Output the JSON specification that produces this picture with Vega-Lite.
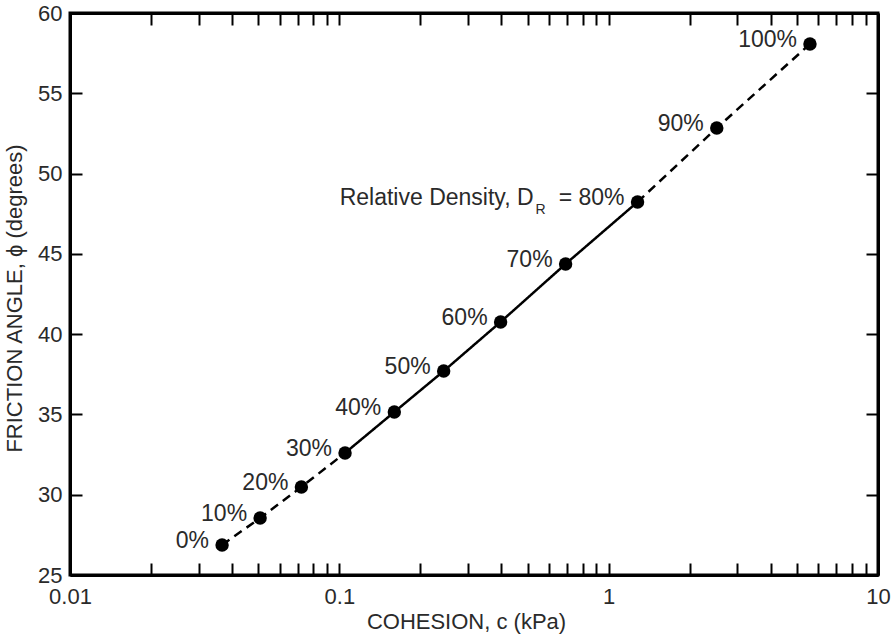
{
  "$schema": "https://vega.github.io/schema/vega-lite/v6.json",
  "width": 808,
  "height": 562,
  "autosize": {"type": "none"},
  "padding": {"left": 70, "top": 13, "right": 16, "bottom": 62},
  "background": "white",
  "config": {
    "view": {"stroke": "black", "strokeWidth": 3},
    "font": "Liberation Sans",
    "axis": {
      "grid": false,
      "domainColor": "black",
      "domainWidth": 3,
      "tickColor": "black",
      "tickWidth": 2,
      "tickSize": -12,
      "labelFont": "Liberation Sans",
      "labelFontSize": 22,
      "labelColor": "#2a2a2a",
      "labelFlush": false,
      "labelOverlap": false,
      "labelBound": false,
      "titleFont": "Liberation Sans",
      "titleFontSize": 22,
      "titleFontWeight": "normal",
      "titleColor": "#2a2a2a"
    }
  },
  "datasets": {
    "pts": [
      {"DR": 0, "label": "0%", "c": 0.0367, "phi": 26.87},
      {"DR": 10, "label": "10%", "c": 0.0508, "phi": 28.55},
      {"DR": 20, "label": "20%", "c": 0.0723, "phi": 30.48},
      {"DR": 30, "label": "30%", "c": 0.105, "phi": 32.6},
      {"DR": 40, "label": "40%", "c": 0.16, "phi": 35.15},
      {"DR": 50, "label": "50%", "c": 0.244, "phi": 37.7},
      {"DR": 60, "label": "60%", "c": 0.397, "phi": 40.76},
      {"DR": 70, "label": "70%", "c": 0.692, "phi": 44.37},
      {"DR": 80, "label": "=  80%", "c": 1.28, "phi": 48.23},
      {"DR": 90, "label": "90%", "c": 2.52, "phi": 52.84},
      {"DR": 100, "label": "100%", "c": 5.59, "phi": 58.07}
    ],
    "curve": [
      {"seg": "low", "DR": 0, "c": 0.0367, "phi": 26.87},
      {"seg": "low", "DR": 10, "c": 0.0508, "phi": 28.55},
      {"seg": "low", "DR": 20, "c": 0.0723, "phi": 30.48},
      {"seg": "low", "DR": 30, "c": 0.105, "phi": 32.6},
      {"seg": "mid", "DR": 30, "c": 0.105, "phi": 32.6},
      {"seg": "mid", "DR": 40, "c": 0.16, "phi": 35.15},
      {"seg": "mid", "DR": 50, "c": 0.244, "phi": 37.7},
      {"seg": "mid", "DR": 60, "c": 0.397, "phi": 40.76},
      {"seg": "mid", "DR": 70, "c": 0.692, "phi": 44.37},
      {"seg": "mid", "DR": 80, "c": 1.28, "phi": 48.23},
      {"seg": "high", "DR": 80, "c": 1.28, "phi": 48.23},
      {"seg": "high", "DR": 90, "c": 2.52, "phi": 52.84},
      {"seg": "high", "DR": 100, "c": 5.59, "phi": 58.07}
    ],
    "annot": [
      {"c": 1.28, "phi": 48.23, "main": "Relative Density, D", "sub": "R"}
    ]
  },
  "layer": [
    {
      "data": {"name": "curve"},
      "mark": {"type": "line", "color": "black", "strokeWidth": 2.5},
      "encoding": {
        "x": {
          "field": "c", "type": "quantitative",
          "scale": {"type": "log", "domain": [0.01, 10]},
          "axis": {
            "orient": "bottom",
            "values": [0.01, 0.02, 0.03, 0.04, 0.05, 0.06, 0.07, 0.08, 0.09, 0.1, 0.2, 0.3, 0.4, 0.5, 0.6, 0.7, 0.8, 0.9, 1, 2, 3, 4, 5, 6, 7, 8, 9, 10],
            "labelExpr": "datum.value == 0.01 ? '0.01' : datum.value == 0.1 ? '0.1' : datum.value == 1 ? '1' : datum.value == 10 ? '10' : ''",
            "labelPadding": 23,
            "title": "COHESION, c (kPa)",
            "titleX": 396,
            "titleY": 46,
            "titleAlign": "center",
            "titleBaseline": "middle",
            "titleAnchor": null
          }
        },
        "y": {
          "field": "phi", "type": "quantitative",
          "scale": {"domain": [25, 60], "nice": false, "zero": false},
          "axis": {
            "orient": "left",
            "values": [25, 30, 35, 40, 45, 50, 55, 60],
            "labelPadding": 20,
            "title": "FRICTION ANGLE, ϕ (degrees)",
            "titleX": -56,
            "titleY": 285,
            "titleAngle": -90,
            "titleAlign": "center",
            "titleBaseline": "middle"
          }
        },
        "detail": {"field": "seg"},
        "strokeDash": {
          "field": "seg", "type": "nominal",
          "scale": {"domain": ["low", "mid", "high"], "range": [[9, 6], [1, 0], [9, 6]]},
          "legend": null
        },
        "order": {"field": "DR"}
      }
    },
    {
      "data": {"name": "pts"},
      "mark": {"type": "circle", "color": "black", "opacity": 1, "size": 180},
      "encoding": {
        "x": {
          "field": "c", "type": "quantitative",
          "scale": {"type": "log", "domain": [0.01, 10]},
          "axis": {
            "orient": "top",
            "values": [0.01, 0.02, 0.03, 0.04, 0.05, 0.06, 0.07, 0.08, 0.09, 0.1, 0.2, 0.3, 0.4, 0.5, 0.6, 0.7, 0.8, 0.9, 1, 2, 3, 4, 5, 6, 7, 8, 9, 10],
            "labels": false,
            "title": null
          }
        },
        "y": {
          "field": "phi", "type": "quantitative",
          "scale": {"domain": [25, 60], "nice": false, "zero": false},
          "axis": {
            "orient": "right",
            "values": [25, 30, 35, 40, 45, 50, 55, 60],
            "labels": false,
            "title": null
          }
        }
      }
    },
    {
      "data": {"name": "pts"},
      "mark": {"type": "text", "align": "right", "baseline": "middle", "dx": -13, "dy": -4, "fontSize": 23, "color": "#2a2a2a", "font": "Liberation Sans"},
      "encoding": {
        "x": {"field": "c", "type": "quantitative", "scale": {"type": "log", "domain": [0.01, 10]}, "axis": null},
        "y": {"field": "phi", "type": "quantitative", "scale": {"domain": [25, 60], "nice": false, "zero": false}, "axis": null},
        "text": {"field": "label"}
      }
    },
    {
      "data": {"name": "annot"},
      "mark": {"type": "text", "align": "right", "baseline": "middle", "dx": -104, "dy": -4, "fontSize": 23, "color": "#2a2a2a", "font": "Liberation Sans"},
      "encoding": {
        "x": {"field": "c", "type": "quantitative", "scale": {"type": "log", "domain": [0.01, 10]}, "axis": null},
        "y": {"field": "phi", "type": "quantitative", "scale": {"domain": [25, 60], "nice": false, "zero": false}, "axis": null},
        "text": {"field": "main"}
      }
    },
    {
      "data": {"name": "annot"},
      "mark": {"type": "text", "align": "center", "baseline": "middle", "dx": -97, "dy": 8, "fontSize": 14, "color": "#2a2a2a", "font": "Liberation Sans"},
      "encoding": {
        "x": {"field": "c", "type": "quantitative", "scale": {"type": "log", "domain": [0.01, 10]}, "axis": null},
        "y": {"field": "phi", "type": "quantitative", "scale": {"domain": [25, 60], "nice": false, "zero": false}, "axis": null},
        "text": {"field": "sub"}
      }
    }
  ],
  "resolve": {"axis": {"x": "independent", "y": "independent"}}
}
